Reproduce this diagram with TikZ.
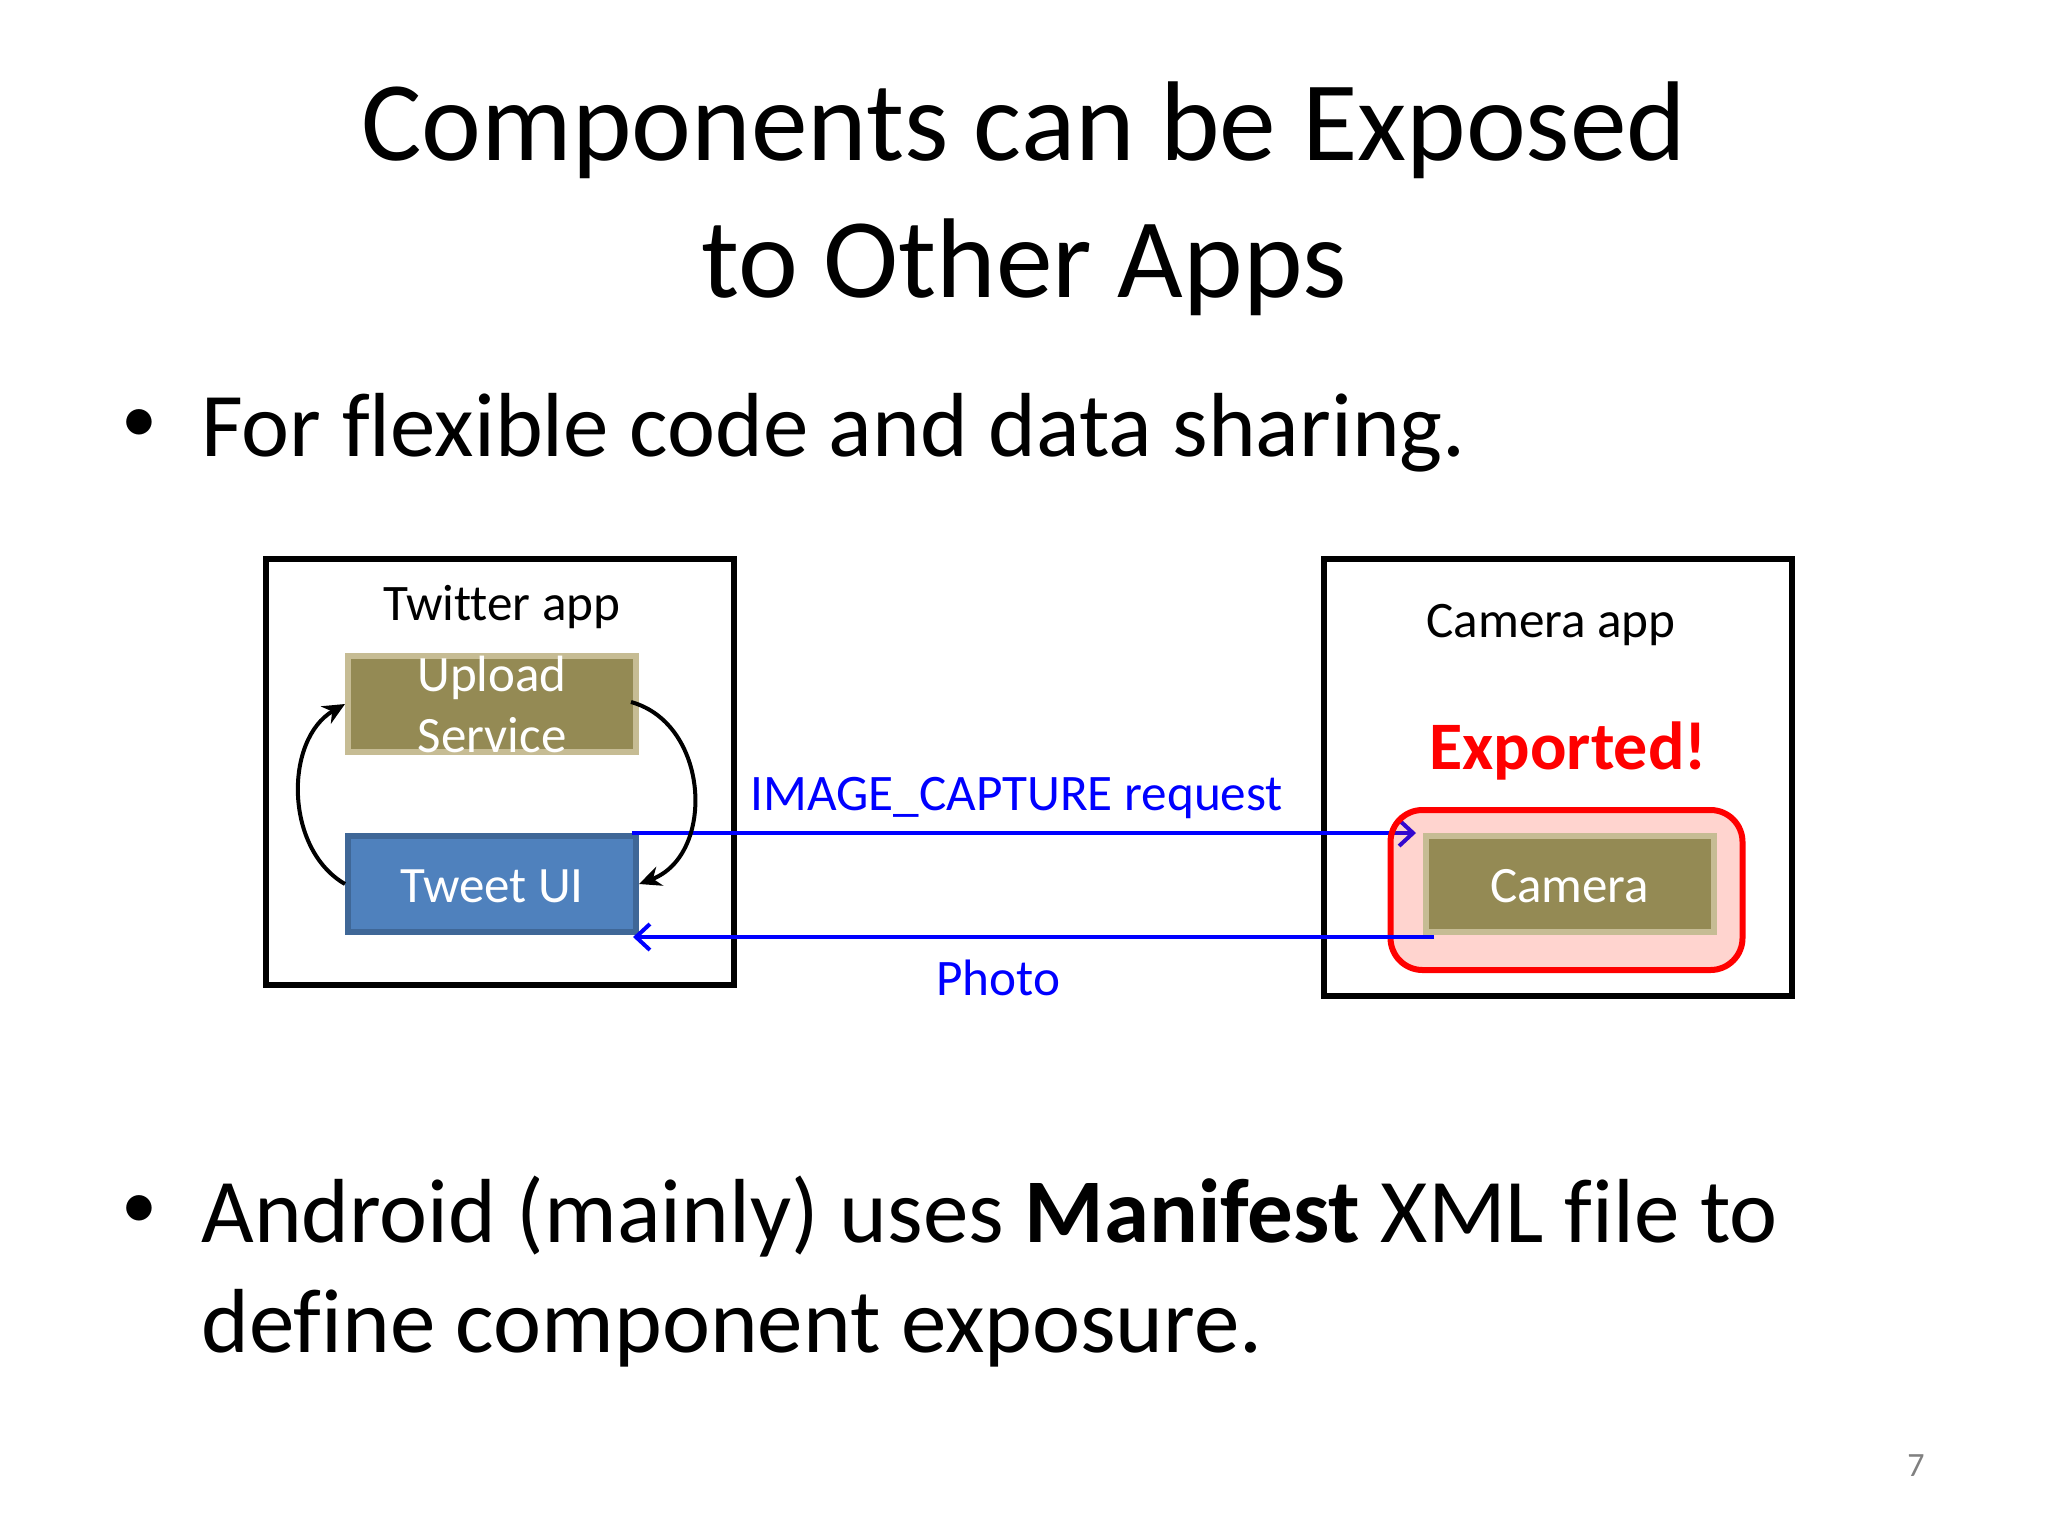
\documentclass[tikz,border=0pt]{standalone}
\usepackage{fontspec}
\setmainfont{Carlito}[Ligatures=CommonOff]
\usetikzlibrary{arrows.meta}
\definecolor{olivefill}{HTML}{948A54}
\definecolor{oliveline}{HTML}{C6BC94}
\definecolor{bluefill}{HTML}{4F81BD}
\definecolor{blueline}{HTML}{3F6797}
\definecolor{exportfill}{HTML}{FF2A10}
\tikzset{
	slidetext/.style={anchor=base, inner sep=0pt, font=\fontsize{#1}{#1}\selectfont},
	appbox/.style={draw, line width=2.8pt, inner sep=0pt},
	compbox/.style={draw=oliveline, fill=olivefill, line width=3pt, inner sep=0pt, text=white, minimum width=144pt, minimum height=48pt},
	callarrow/.style={line width=2pt, -{Stealth[length=11pt,width=10pt]}},
	intentarrow/.style={blue, line width=2pt, -{Straight Barb[length=7pt,width=13pt]}}
}
\begin{document}
\begin{tikzpicture}[x=0.5pt,y=-0.5pt]
	\useasboundingbox (0,0) rectangle (2048,1536);

	\node[slidetext=56.7] (title1) at (1024,160) {Components can be Exposed};
	\node[slidetext=56.7] (title2) at (1024,297) {to Other Apps};
	\node[slidetext=36] (bullet1) at (139,442) {•};
	\node[slidetext=45.5, anchor=base west] (text1) at (201,456) {For flexible code and data sharing.};
	\node[slidetext=36] (bullet2) at (139,1228) {•};
	\node[slidetext=45.5, anchor=base west] (text2) at (201,1242) {Android (mainly) uses \textbf{Manifest} XML file to};
	\node[slidetext=45.5, anchor=base west] (text3) at (201,1352) {define component exposure.};
	\node[slidetext=17, text=gray] (pagenum) at (1916,1476) {7};

	\node[appbox, minimum width=234pt, minimum height=213pt] (twitterbox) at (500,772) {};
	\node[appbox, minimum width=234pt, minimum height=218.5pt] (camerabox) at (1558,777.5) {};

	\node[slidetext=25.6] (twitterlabel) at (502,620) {Twitter app};
	\node[slidetext=25.6] (cameralabel) at (1551,637) {Camera app};
	\node[slidetext=34, text=red] (exported) at (1568,769) {\textbf{Exported!}};

	\node[compbox] (upload) at (492,704) {};
	\node[slidetext=25.5, text=white] (uploadtext1) at (492,691) {Upload};
	\node[slidetext=25.5, text=white] (uploadtext2) at (492,752) {Service};
	\node[compbox, draw=blueline, fill=bluefill] (tweetui) at (492,884) {};
	\node[slidetext=25.5, text=white] (tweettext) at (492,902) {Tweet UI};

	\coordinate (requestend) at (1416,833);
	\draw[intentarrow] ([xshift=-3.5pt]tweetui.north east) -- (requestend);
	\node[draw=red, fill=exportfill, fill opacity=0.2, draw opacity=1, line width=3pt, rounded corners=16pt, minimum width=176pt, minimum height=80pt] (exportbox) at (1566.5,890) {};
	\node[compbox] (camera) at (1570,884) {};
	\node[slidetext=25.5, text=white] (cameratext) at (1569.5,902) {Camera};
	\draw[intentarrow] ([xshift=5.5pt,yshift=-1pt]camera.south west) -- ([xshift=-3pt,yshift=-1pt]tweetui.south east);

	\draw[callarrow] ([xshift=-4pt,yshift=1pt]upload.east) to[bend left=72, looseness=1.15] (tweetui.east);
	\draw[callarrow] (tweetui.west) to[bend left=60] (upload.west);

	\node[slidetext=25.6, text=blue, anchor=base west] (requestlabel) at (750,810) {IMAGE\_CAPTURE request};
	\node[slidetext=25.6, text=blue] (photolabel) at (998,995) {Photo};
\end{tikzpicture}
\end{document}
